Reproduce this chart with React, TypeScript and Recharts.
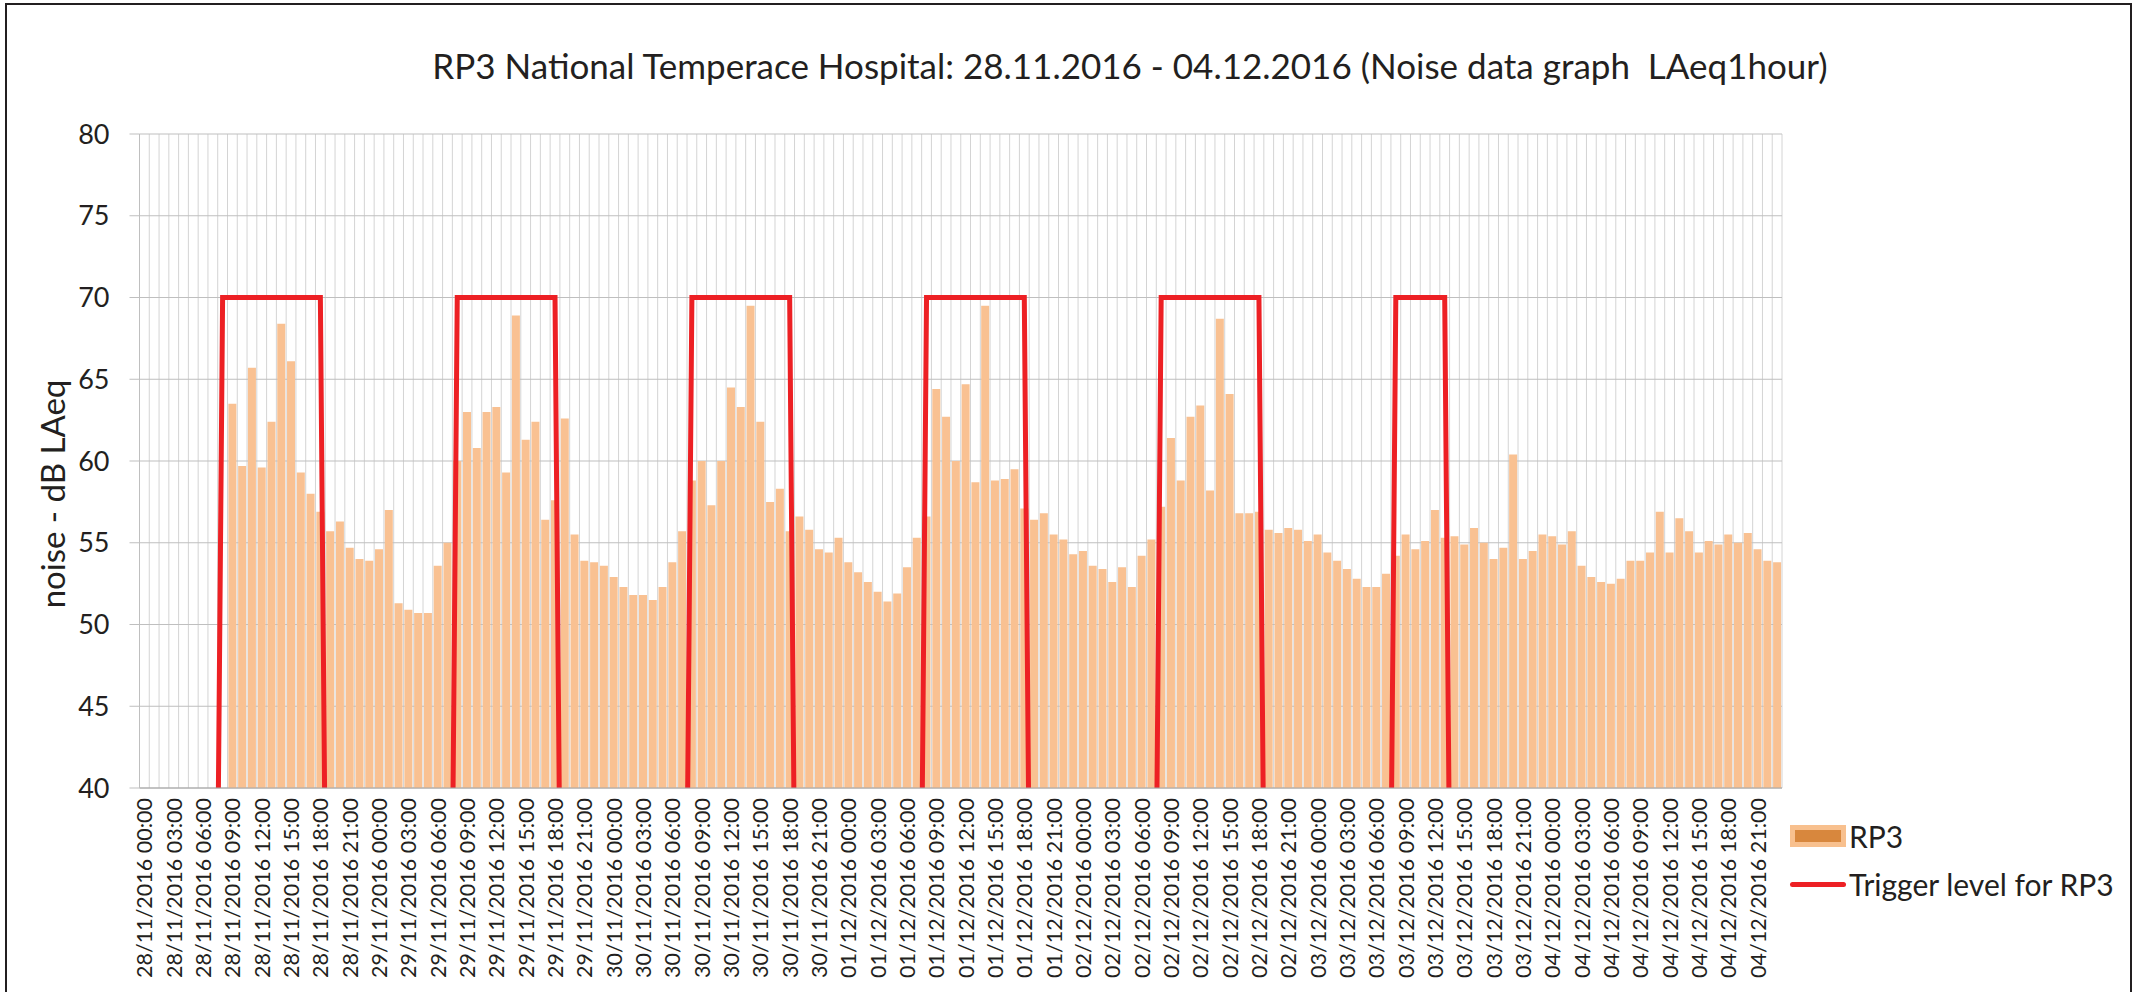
import React from 'react';
import {
  ComposedChart,
  Bar,
  Line,
  XAxis,
  YAxis,
  CartesianGrid,
} from 'recharts';

// hourly LAeq values, one array per day (00:00 .. 23:00)
const noise28 = [null, null, null, null, null, null, null, null, null, 63.5, 59.7, 65.7, 59.6, 62.4, 68.4, 66.1, 59.3, 58.0, 56.9, 55.7, 56.3, 54.7, 54.0, 53.9];
const noise29 = [54.6, 57.0, 51.3, 50.9, 50.7, 50.7, 53.6, 55.0, 60.0, 63.0, 60.8, 63.0, 63.3, 59.3, 68.9, 61.3, 62.4, 56.4, 57.6, 62.6, 55.5, 53.9, 53.8, 53.6];
const noise30 = [52.9, 52.3, 51.8, 51.8, 51.5, 52.3, 53.8, 55.7, 58.8, 60.0, 57.3, 60.0, 64.5, 63.3, 69.5, 62.4, 57.5, 58.3, 55.7, 56.6, 55.8, 54.6, 54.4, 55.3];
const noise01 = [53.8, 53.2, 52.6, 52.0, 51.4, 51.9, 53.5, 55.3, 56.6, 64.4, 62.7, 60.0, 64.7, 58.7, 69.5, 58.8, 58.9, 59.5, 57.1, 56.4, 56.8, 55.5, 55.2, 54.3];
const noise02 = [54.5, 53.6, 53.4, 52.6, 53.5, 52.3, 54.2, 55.2, 57.2, 61.4, 58.8, 62.7, 63.4, 58.2, 68.7, 64.1, 56.8, 56.8, 56.9, 55.8, 55.6, 55.9, 55.8, 55.1];
const noise03 = [55.5, 54.4, 53.9, 53.4, 52.8, 52.3, 52.3, 53.1, 54.2, 55.5, 54.6, 55.1, 57.0, 55.3, 55.4, 54.9, 55.9, 55.0, 54.0, 54.7, 60.4, 54.0, 54.5, 55.5];
const noise04 = [55.4, 54.9, 55.7, 53.6, 52.9, 52.6, 52.5, 52.8, 53.9, 53.9, 54.4, 56.9, 54.4, 56.5, 55.7, 54.4, 55.1, 54.9, 55.5, 55.0, 55.6, 54.6, 53.9, 53.8];

// trigger level: 70 dB in working hours, 0 (off the axis) otherwise
const triggerWeekday = [0, 0, 0, 0, 0, 0, 0, 0, 70, 70, 70, 70, 70, 70, 70, 70, 70, 70, 70, 0, 0, 0, 0, 0];
const triggerSaturday = [0, 0, 0, 0, 0, 0, 0, 0, 70, 70, 70, 70, 70, 70, 0, 0, 0, 0, 0, 0, 0, 0, 0, 0];
const triggerSunday = [0, 0, 0, 0, 0, 0, 0, 0, 0, 0, 0, 0, 0, 0, 0, 0, 0, 0, 0, 0, 0, 0, 0, 0];

const days = ['28/11/2016', '29/11/2016', '30/11/2016', '01/12/2016', '02/12/2016', '03/12/2016', '04/12/2016'];
const hours = ['00:00', '01:00', '02:00', '03:00', '04:00', '05:00', '06:00', '07:00', '08:00', '09:00', '10:00', '11:00',
  '12:00', '13:00', '14:00', '15:00', '16:00', '17:00', '18:00', '19:00', '20:00', '21:00', '22:00', '23:00'];
const noiseByDay = [noise28, noise29, noise30, noise01, noise02, noise03, noise04];
const triggerByDay = [triggerWeekday, triggerWeekday, triggerWeekday, triggerWeekday, triggerWeekday, triggerSaturday, triggerSunday];

const yTicks = [40, 45, 50, 55, 60, 65, 70, 75, 80];

const TITLE = 'RP3 National Temperace Hospital: 28.11.2016 - 04.12.2016 (Noise data graph  LAeq1hour)';
const FONT = 'Lato, "Open Sans", sans-serif';
const TEXT = '#231F20';
const BAR_FILL = '#F9C192';
const RED = '#ED2024';

const rows = days.flatMap((day, d) =>
  hours.map((h, i) => ({
    pos: d * 24 + i,
    label: `${day} ${h}`,
    noise: noiseByDay[d][i],
    trigger: triggerByDay[d][i],
  }))
);

// one grid line per hour boundary
const hourBounds = Array.from({ length: rows.length + 1 }, (_, i) => i);

const XTick = (props: any) => {
  const { x, y, payload } = props;
  return (
    <text
      x={x}
      y={y}
      transform={`rotate(-90 ${x} ${y})`}
      textAnchor="end"
      dominantBaseline="central"
      fontSize={21.5}
      fontFamily={FONT}
      fill={TEXT}
    >
      {payload.value}
    </text>
  );
};

const LegendBox = () => (
  <div style={{ position: 'absolute', left: 1790, top: 812, fontFamily: FONT, fontSize: 30, color: TEXT }}>
    <div style={{ display: 'flex', alignItems: 'center', height: 48 }}>
      <span
        style={{
          width: 56,
          height: 22,
          boxSizing: 'border-box',
          border: '5px solid #F8C08E',
          background: '#D8873D',
          marginRight: 3,
        }}
      />
      <span>RP3</span>
    </div>
    <div style={{ display: 'flex', alignItems: 'center', height: 48 }}>
      <span style={{ width: 56, height: 5, borderRadius: 3, background: RED, marginRight: 3 }} />
      <span>Trigger level for RP3</span>
    </div>
  </div>
);

export default function App() {
  return (
    <div style={{ position: 'absolute', left: 0, top: 0, width: 2137, height: 992, overflow: 'hidden', fontFamily: FONT, background: '#fff' }}>
      <div
        style={{
          position: 'absolute',
          left: 5,
          top: 3,
          width: 2127,
          height: 1100,
          boxSizing: 'border-box',
          border: '2px solid #231F20',
        }}
      />
      <div
        style={{
          position: 'absolute',
          left: 1130,
          top: 65,
          transform: 'translate(-50%, -50%)',
          whiteSpace: 'pre',
          fontSize: 35,
          color: TEXT,
        }}
      >
        {TITLE}
      </div>
      <div
        style={{
          position: 'absolute',
          left: 52,
          top: 494,
          transform: 'translate(-50%, -50%) rotate(-90deg)',
          whiteSpace: 'nowrap',
          fontSize: 33,
          color: TEXT,
        }}
      >
        noise - dB LAeq
      </div>
      <div style={{ position: 'absolute', left: 0, top: 0 }}>
        <ComposedChart
          width={2137}
          height={992}
          data={rows}
          margin={{ top: 134, right: 355, bottom: 14, left: 0 }}
          barCategoryGap="9%"
        >
          <XAxis
            type="number"
            orientation="top"
            dataKey="pos"
            domain={[0, 168]}
            ticks={hourBounds}
            interval={0}
            allowDataOverflow
            hide
          />
          <CartesianGrid horizontal={false} stroke="#D4D4D4" />
          <CartesianGrid vertical={false} stroke="#BFBFBF" />
          <XAxis
            xAxisId="cat"
            dataKey="label"
            interval={2}
            tick={<XTick />}
            tickLine={false}
            tickSize={0}
            tickMargin={10}
            height={190}
            axisLine={{ stroke: '#A6A6A6' }}
          />
          <YAxis
            domain={[40, 80]}
            ticks={yTicks}
            allowDataOverflow
            width={139.5}
            tickSize={10}
            tickMargin={20}
            tick={{ fontSize: 27, fill: TEXT, fontFamily: FONT }}
            tickLine={{ stroke: '#BFBFBF' }}
            axisLine={{ stroke: '#BFBFBF' }}
          />
          <Bar xAxisId="cat" dataKey="noise" name="RP3" fill={BAR_FILL} isAnimationActive={false} />
          <Line
            xAxisId="cat"
            type="linear"
            dataKey="trigger"
            name="Trigger level for RP3"
            stroke={RED}
            strokeWidth={5}
            strokeLinejoin="miter"
            dot={false}
            activeDot={false}
            isAnimationActive={false}
          />
        </ComposedChart>
      </div>
      <LegendBox />
    </div>
  );
}
